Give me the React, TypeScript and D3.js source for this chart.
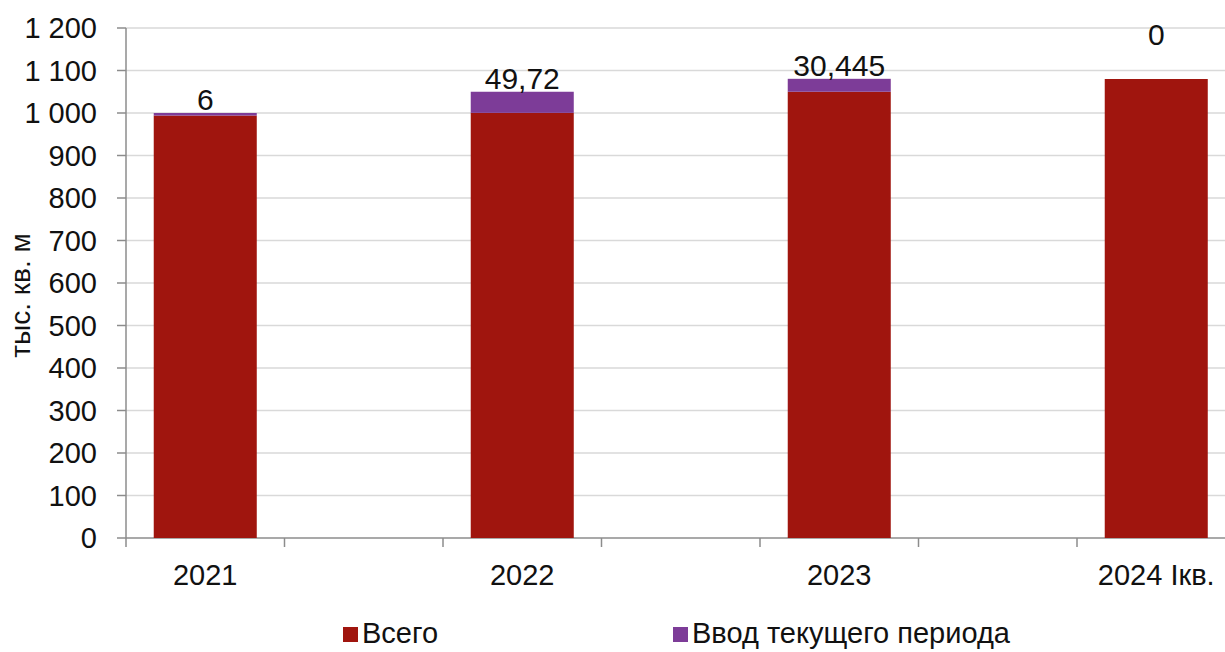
import React from "react";
import * as d3 from "d3";

const categories = ["2021", "2022", "2023", "2024 Iкв."];
const totalValues = [994, 1000.28, 1050, 1080];
const newValues = [6, 49.72, 30.445, 0];
const newLabels = ["6", "49,72", "30,445", "0"];
const yTicks = [0, 100, 200, 300, 400, 500, 600, 700, 800, 900, 1000, 1100, 1200];
const legendItems = ["Всего", "Ввод текущего периода"];

const W = 1225;
const H = 652;
const left = 126;
const top = 28;
const bottom = 538;
const right = 1235.5;
const RED = "#A0150E";
const PURPLE = "#7D3C98";
const FONT = "'Liberation Sans', Arial, sans-serif";

const fmt = (v: number) => {
  const s = String(v);
  return s.length > 3 ? s.slice(0, s.length - 3) + " " + s.slice(s.length - 3) : s;
};

export default function App() {
  const slots = d3.range(categories.length * 2 - 1);
  const x = d3.scaleBand<number>().domain(slots).range([left, right]).paddingInner(0).paddingOuter(0);
  const y = d3.scaleLinear().domain([0, 1200]).range([bottom, top]);
  const bw = x.bandwidth() * 0.65;
  const cx = (i: number) => (x(i * 2) as number) + x.bandwidth() / 2;

  return (
    <svg width={W} height={H} style={{ position: "absolute", left: 0, top: 0, background: "#fff" }} fontFamily={FONT}>
      {yTicks.map((t) => (
        <g key={t}>
          {t > 0 && <line x1={left} x2={W} y1={y(t)} y2={y(t)} stroke="#D9D9D9" strokeWidth={1.5} />}
          <line x1={left - 9} x2={left} y1={y(t)} y2={y(t)} stroke="#8C8C8C" strokeWidth={1.5} />
          <text x={97} y={y(t)} dy="0.36em" textAnchor="end" fontSize={29} fill="#111">
            {fmt(t)}
          </text>
        </g>
      ))}
      <line x1={left} x2={left} y1={top} y2={bottom} stroke="#8C8C8C" strokeWidth={1.5} />
      <line x1={left} x2={W} y1={bottom} y2={bottom} stroke="#8C8C8C" strokeWidth={1.5} />
      {d3.range(slots.length + 1).map((k) => {
        const xx = left + k * x.bandwidth();
        return <line key={k} x1={xx} x2={xx} y1={bottom} y2={bottom + 9} stroke="#8C8C8C" strokeWidth={1.5} />;
      })}
      {categories.map((c, i) => {
        const x0 = cx(i) - bw / 2;
        const t = totalValues[i];
        const n = newValues[i];
        const topVal = t + n;
        return (
          <g key={c}>
            <rect x={x0} width={bw} y={y(t)} height={y(0) - y(t)} fill={RED} />
            {n > 0 && <rect x={x0} width={bw} y={y(topVal)} height={y(t) - y(topVal)} fill={PURPLE} />}
            <text x={cx(i)} y={y(topVal) - (n > 0 ? 3 : 34)} textAnchor="middle" fontSize={30} fill="#111">
              {newLabels[i]}
            </text>
            <text x={cx(i)} y={585} textAnchor="middle" fontSize={29} fill="#111">
              {c}
            </text>
          </g>
        );
      })}
      <text transform={`translate(30,${(228 + 363) / 2}) rotate(-90)`} textAnchor="middle" fontSize={28} fill="#111">
        тыс. кв. м
      </text>
      {legendItems.map((l, i) => {
        const lx = i === 0 ? 343 : 673;
        return (
          <g key={l}>
            <rect x={lx} y={627} width={15} height={15} fill={i === 0 ? RED : PURPLE} />
            <text x={lx + 19} y={643} fontSize={29} fill="#111">
              {l}
            </text>
          </g>
        );
      })}
    </svg>
  );
}
